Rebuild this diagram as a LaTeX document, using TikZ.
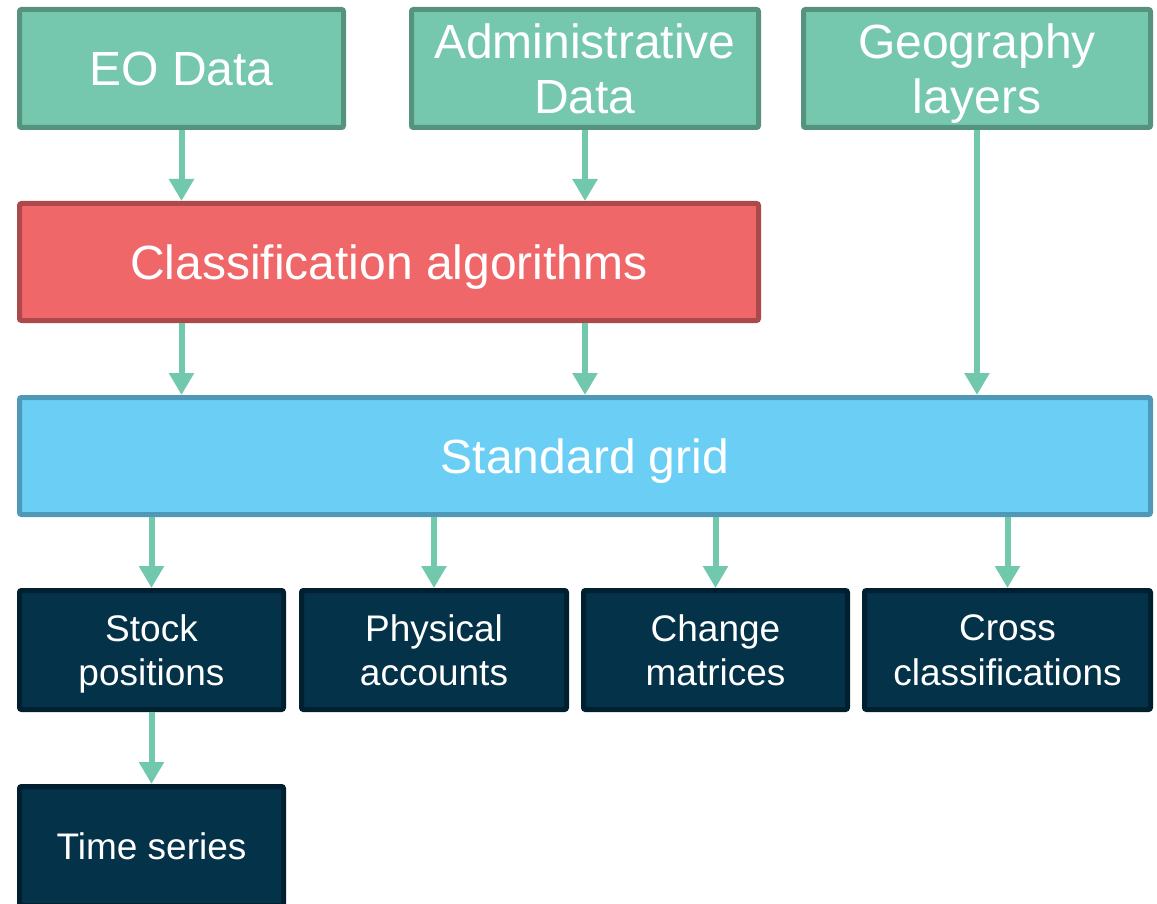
\documentclass[tikz,border=0pt]{standalone}
\usepackage{fontspec}
\setmainfont{Liberation Sans}
\usetikzlibrary{arrows.meta}
\definecolor{srcfill}{HTML}{75C8AE}
\definecolor{srcline}{HTML}{56937E}
\definecolor{algfill}{HTML}{F0676A}
\definecolor{algline}{HTML}{AE494B}
\definecolor{gridfill}{HTML}{6BCFF5}
\definecolor{gridline}{HTML}{4E99B7}
\definecolor{outfill}{HTML}{033249}
\definecolor{outline}{HTML}{00202F}
\definecolor{flow}{HTML}{72C8AC}
\tikzset{
  box/.style={rectangle, rounded corners=2pt, line width=5pt, inner sep=0pt,
    align=center, text=white, text depth=0pt},
  bigtext/.style={font=\fontsize{48}{55}\selectfont},
  smalltext/.style={font=\fontsize{37}{44.5}\selectfont},
  srcbox/.style={box, bigtext, draw=srcline, fill=srcfill},
  algbox/.style={box, bigtext, draw=algline, fill=algfill},
  gridbox/.style={box, bigtext, draw=gridline, fill=gridfill},
  outbox/.style={box, smalltext, draw=outline, fill=outfill},
  flowarrow/.style={draw=flow, line width=6pt,
    -{Triangle[width=24pt,length=22pt]}}
}
\begin{document}
\begin{tikzpicture}[x=1pt, y=-1pt]
\useasboundingbox (0,0) rectangle (1157,904);

% data sources
\node[srcbox, minimum width=324pt, minimum height=118pt] (eo) at (181.5,68.5) {EO Data};
\node[srcbox, minimum width=347pt, minimum height=118pt] (adm) at (585,68.5) {Administrative\\Data};
\node[srcbox, minimum width=347pt, minimum height=118pt] (geo) at (977,68.5) {Geography\\layers};

% processing
\node[algbox, minimum width=739pt, minimum height=117pt] (alg) at (389,262) {Classification algorithms};
\node[gridbox, minimum width=1131pt, minimum height=117pt] (grid) at (585,456) {Standard grid};

% outputs
\node[outbox, minimum width=264pt, minimum height=119pt] (stock) at (151.5,650) {Stock\\positions};
\node[outbox, minimum width=265pt, minimum height=119pt] (phys) at (434,650) {Physical\\accounts};
\node[outbox, minimum width=264pt, minimum height=119pt] (chg) at (715.5,650) {Change\\matrices};
\node[outbox, minimum width=286pt, minimum height=119pt] (cross) at (1007.5,650) {Cross\\classifications};
\node[outbox, minimum width=264pt, minimum height=119pt] (ts) at (151.5,846) {Time series};

% flows
\draw[flowarrow] (eo.south) -- (eo.south |- alg.north);
\draw[flowarrow] (adm.south) -- (adm.south |- alg.north);
\draw[flowarrow] (alg.south -| eo.south) -- (grid.north -| eo.south);
\draw[flowarrow] (alg.south -| adm.south) -- (grid.north -| adm.south);
\draw[flowarrow] (geo.south) -- (geo.south |- grid.north);
\draw[flowarrow] (grid.south -| stock.north) -- (stock.north);
\draw[flowarrow] (grid.south -| phys.north) -- (phys.north);
\draw[flowarrow] (grid.south -| chg.north) -- (chg.north);
\draw[flowarrow] (grid.south -| cross.north) -- (cross.north);
\draw[flowarrow] (stock.south) -- (ts.north);
\end{tikzpicture}
\end{document}
